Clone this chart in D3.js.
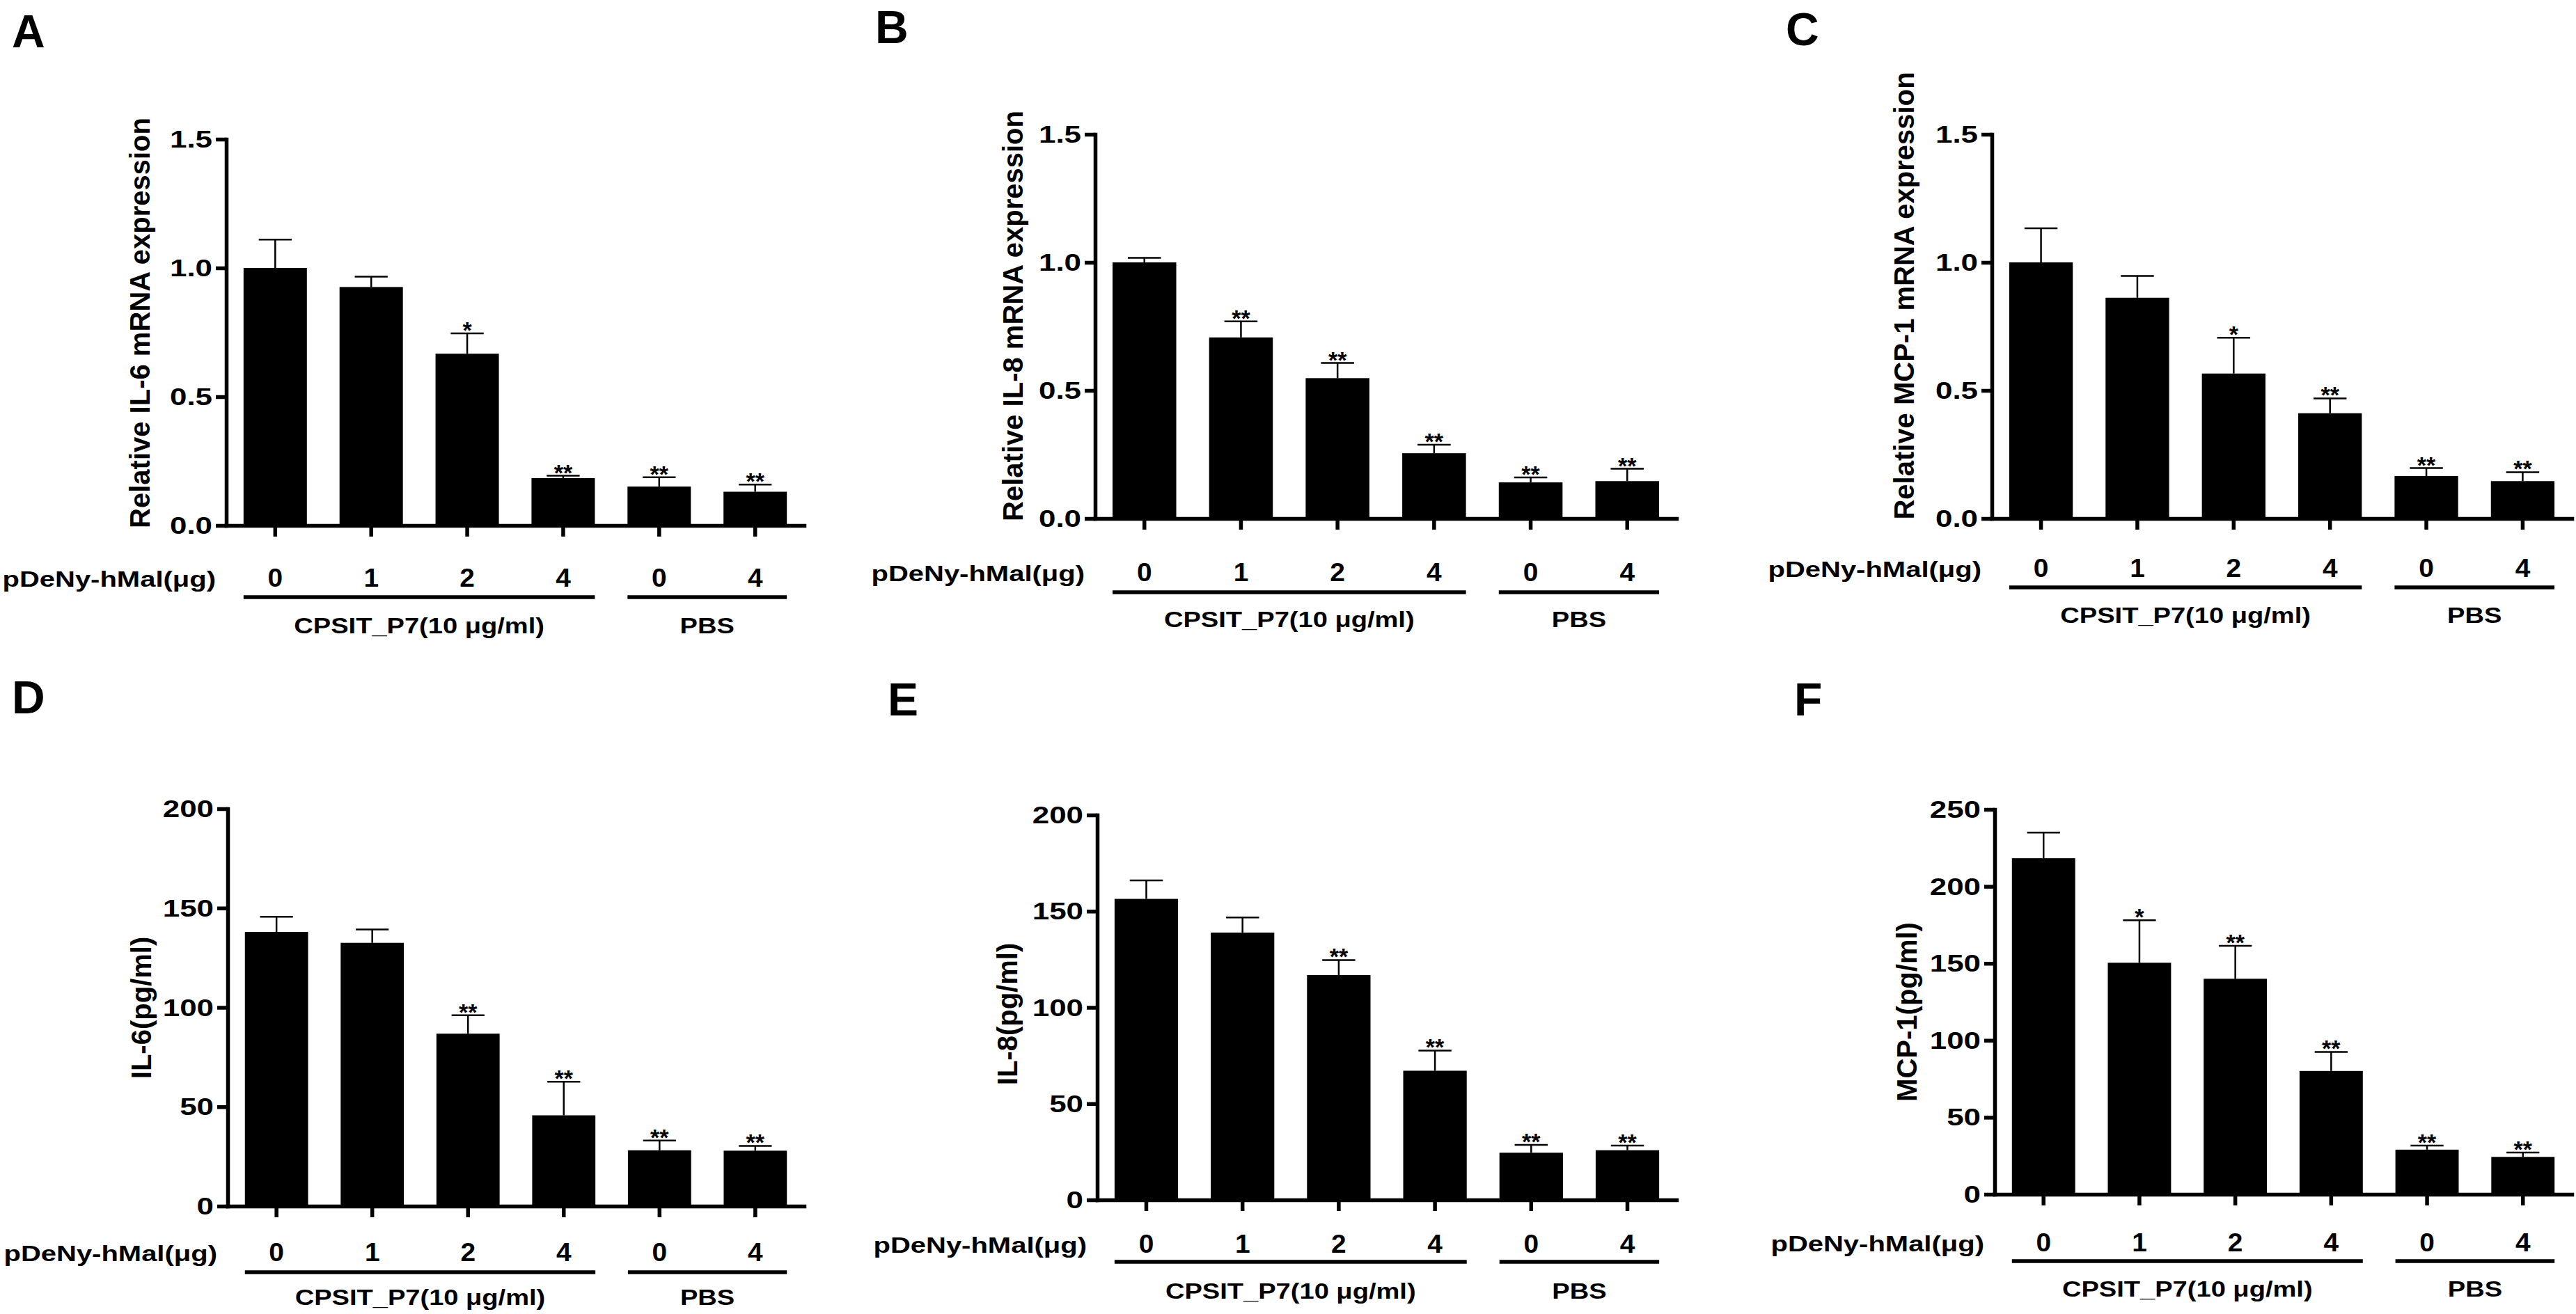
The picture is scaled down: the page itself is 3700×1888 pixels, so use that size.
<!DOCTYPE html>
<html>
<head>
<meta charset="utf-8">
<script src="https://cdn.jsdelivr.net/npm/d3@7"></script>
<style>
  body { margin: 0; background: #fff; }
  text { font-family: "Liberation Sans", Arial, sans-serif; font-weight: bold; fill: #000; }
</style>
</head>
<body>
<div id="chart"></div>
<script>
// x categories (plasmid dose), shared by all six panels
const doses = ["0", "1", "2", "4", "0", "4"];
const doseTitle = "pDeNy-hMal(μg)";
const groups = ["CPSIT_P7(10 μg/ml)", "PBS"];
const groupSpans = [[0, 3], [4, 5]];

// A - IL-6 mRNA
const il6Mrna = [1.00, 0.926, 0.667, 0.184, 0.151, 0.131];
const il6MrnaErr = [0.11, 0.04, 0.079, 0.009, 0.036, 0.028];
const il6MrnaSig = ["", "", "*", "**", "**", "**"];
// B - IL-8 mRNA
const il8Mrna = [1.00, 0.707, 0.548, 0.255, 0.141, 0.146];
const il8MrnaErr = [0.018, 0.063, 0.059, 0.033, 0.019, 0.048];
const il8MrnaSig = ["", "**", "**", "**", "**", "**"];
// C - MCP-1 mRNA
const mcpMrna = [1.00, 0.862, 0.566, 0.411, 0.166, 0.146];
const mcpMrnaErr = [0.133, 0.085, 0.14, 0.058, 0.031, 0.035];
const mcpMrnaSig = ["", "", "*", "**", "**", "**"];
// D - IL-6 protein
const il6Prot = [138, 132.5, 86.8, 45.7, 28.1, 27.9];
const il6ProtErr = [7.6, 6.7, 9.3, 16.9, 4.9, 2.4];
const il6ProtSig = ["", "", "**", "**", "**", "**"];
// E - IL-8 protein
const il8Prot = [156.4, 138.9, 116.8, 67.1, 24.5, 25.8];
const il8ProtErr = [9.6, 7.8, 7.8, 10.5, 4.1, 2.4];
const il8ProtSig = ["", "", "**", "**", "**", "**"];
// F - MCP-1 protein
const mcpProt = [218.3, 150.4, 140, 80.1, 29, 24.3];
const mcpProtErr = [16.7, 27.6, 21.4, 12.4, 2.7, 2.8];
const mcpProtSig = ["", "*", "**", "**", "**", "**"];

const mrnaTicks = [0, 0.5, 1.0, 1.5];
const il6Ticks = [0, 50, 100, 150, 200];
const mcpTicks = [0, 50, 100, 150, 200, 250];

const W = 3700, H = 1888;

const panels = [
  {letter: "A", title: "Relative IL-6 mRNA expression", values: il6Mrna, errors: il6MrnaErr, sig: il6MrnaSig, ticks: mrnaTicks, fmt: ".1f",
   left: 325, right: 1155, top: 200, bottom: 755, lx: 17, ly: 68, titleDx: -110, titleY: 464, labelDy: 88, lineDy: 103, groupDy: 155},
  {letter: "B", title: "Relative IL-8 mRNA expression", values: il8Mrna, errors: il8MrnaErr, sig: il8MrnaSig, ticks: mrnaTicks, fmt: ".1f",
   left: 1573, right: 2408, top: 193, bottom: 745, lx: 1257, ly: 62, titleDx: -104, titleY: 454, labelDy: 90, lineDy: 106, groupDy: 156},
  {letter: "C", title: "Relative MCP-1 mRNA expression", values: mcpMrna, errors: mcpMrnaErr, sig: mcpMrnaSig, ticks: mrnaTicks, fmt: ".1f",
   left: 2861, right: 3694, top: 193, bottom: 745, lx: 2565, ly: 65, titleDx: -112, titleY: 425, labelDy: 84, lineDy: 99, groupDy: 150},
  {letter: "D", title: "IL-6(pg/ml)", values: il6Prot, errors: il6ProtErr, sig: il6ProtSig, ticks: il6Ticks, fmt: "d",
   left: 327, right: 1155, top: 1162, bottom: 1733, lx: 17, ly: 1025, titleDx: -110, titleY: 1448, labelDy: 79, lineDy: 95, groupDy: 142},
  {letter: "E", title: "IL-8(pg/ml)", values: il8Prot, errors: il8ProtErr, sig: il8ProtSig, ticks: il6Ticks, fmt: "d",
   left: 1576, right: 2408, top: 1171, bottom: 1724, lx: 1275, ly: 1028, titleDx: -115, titleY: 1457, labelDy: 76, lineDy: 89, groupDy: 142},
  {letter: "F", title: "MCP-1(pg/ml)", values: mcpProt, errors: mcpProtErr, sig: mcpProtSig, ticks: mcpTicks, fmt: "d",
   left: 2865, right: 3694, top: 1163, bottom: 1716, lx: 2577, ly: 1028, titleDx: -112, titleY: 1454, labelDy: 82, lineDy: 96, groupDy: 147}
];

// the source figure's horizontal text is wider than plain Arial; widen glyphs about their anchor x
function widen(sel, s) {
  sel.each(function () {
    const t = d3.select(this);
    const x = +t.attr("x") || 0;
    t.attr("transform", `translate(${x},0) scale(${s},1) translate(${-x},0)`);
  });
}

const svg = d3.select("#chart").append("svg")
  .attr("width", W).attr("height", H)
  .style("background", "#fff");

panels.forEach(p => {
  const g = svg.append("g");
  const x = d3.scaleBand().domain(d3.range(doses.length)).range([p.left, p.right])
    .paddingInner(0.34).paddingOuter(0.18);
  const y = d3.scaleLinear().domain([0, d3.max(p.ticks)]).range([p.bottom, p.top]);
  const bw = x.bandwidth();
  const capW = bw * 0.52;

  // bars
  g.selectAll("rect.bar").data(p.values).join("rect")
    .attr("class", "bar")
    .attr("x", (d, i) => x(i))
    .attr("y", d => y(d))
    .attr("width", bw)
    .attr("height", d => y(0) - y(d))
    .attr("fill", "#000");

  // upper error whiskers
  const eb = g.selectAll("g.err").data(p.values).join("g").attr("class", "err")
    .attr("stroke", "#000").attr("stroke-width", 2.5);
  eb.append("line")
    .attr("x1", (d, i) => x(i) + bw / 2).attr("x2", (d, i) => x(i) + bw / 2)
    .attr("y1", d => y(d)).attr("y2", (d, i) => y(d + p.errors[i]));
  eb.append("line")
    .attr("x1", (d, i) => x(i) + bw / 2 - capW / 2).attr("x2", (d, i) => x(i) + bw / 2 + capW / 2)
    .attr("y1", (d, i) => y(d + p.errors[i])).attr("y2", (d, i) => y(d + p.errors[i]));

  // significance stars
  g.selectAll("text.sig").data(p.values).join("text")
    .attr("class", "sig")
    .attr("x", (d, i) => x(i) + bw / 2)
    .attr("y", (d, i) => y(d + p.errors[i]) + 7)
    .attr("text-anchor", "middle")
    .style("font-size", "34px")
    .text((d, i) => p.sig[i]);

  // y axis
  const yAxis = g.append("g")
    .attr("transform", `translate(${p.left},0)`)
    .call(d3.axisLeft(y).tickValues(p.ticks).tickFormat(d3.format(p.fmt))
      .tickSize(15).tickSizeOuter(0).tickPadding(5));
  yAxis.selectAll("text").style("font-size", "36px").call(widen, 1.22);

  // x axis
  const xAxis = g.append("g")
    .attr("transform", `translate(0,${p.bottom})`)
    .call(d3.axisBottom(x).tickFormat(i => doses[i])
      .tickSize(16).tickSizeOuter(0).tickPadding(p.labelDy - 16 - 0.71 * 37));
  xAxis.selectAll("text").style("font-size", "37px").call(widen, 1.05);

  g.selectAll(".domain, .tick line").attr("stroke", "#000").attr("stroke-width", 5.5)
    .attr("stroke-linecap", "square");
  g.selectAll(".tick line").attr("stroke-linecap", "butt");

  // y title
  g.append("text")
    .attr("transform", `translate(${p.left + p.titleDx},${p.titleY}) rotate(-90)`)
    .attr("text-anchor", "middle")
    .style("font-size", "40px")
    .text(p.title);

  // dose row title
  g.append("text")
    .attr("x", p.left - 15)
    .attr("y", p.bottom + p.labelDy)
    .attr("text-anchor", "end")
    .style("font-size", "31px")
    .text(doseTitle)
    .call(widen, 1.29);

  // group underlines and labels
  groupSpans.forEach((s, k) => {
    const x0 = x(s[0]), x1 = x(s[1]) + bw;
    g.append("line")
      .attr("x1", x0).attr("x2", x1)
      .attr("y1", p.bottom + p.lineDy).attr("y2", p.bottom + p.lineDy)
      .attr("stroke", "#000").attr("stroke-width", 5.5);
    g.append("text")
      .attr("x", (x0 + x1) / 2)
      .attr("y", p.bottom + p.groupDy)
      .attr("text-anchor", "middle")
      .style("font-size", "32px")
      .text(groups[k])
      .call(widen, 1.19);
  });

  // panel letter
  g.append("text")
    .attr("x", p.lx).attr("y", p.ly)
    .style("font-size", "66px")
    .text(p.letter);
});
</script>
</body>
</html>
